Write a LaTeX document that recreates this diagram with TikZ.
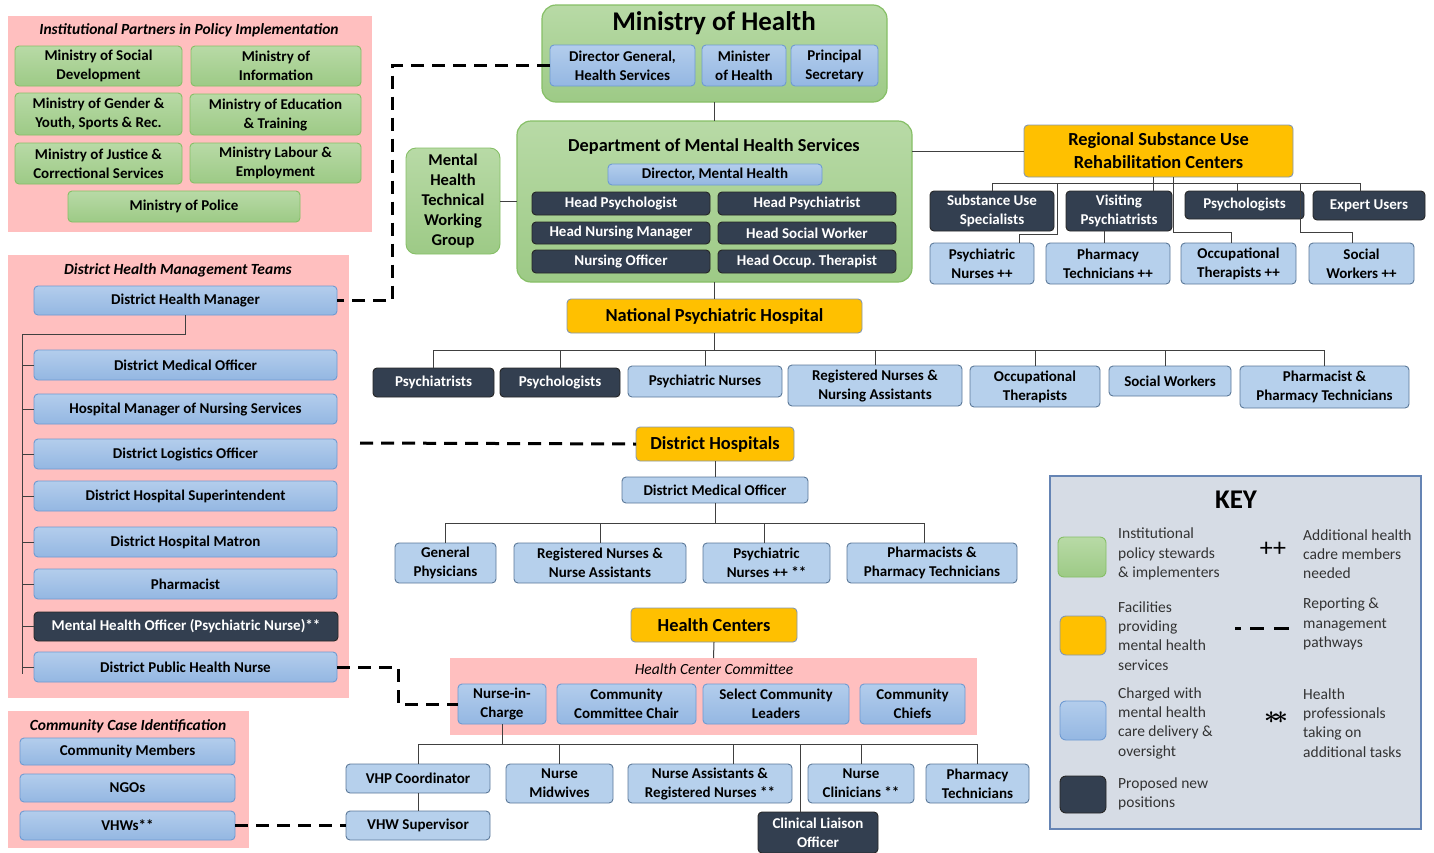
\documentclass[tikz,border=0pt]{standalone}
\usepackage{fontspec}
\setmainfont{Carlito}
\usepackage{tikz}
\usetikzlibrary{positioning,calc}

\definecolor{pinkf}{HTML}{FFBFBF}
\definecolor{grnt}{HTML}{B8DAA6}
\definecolor{grnb}{HTML}{9DCA86}
\definecolor{grnd}{HTML}{86BF66}
\definecolor{blut}{HTML}{B3CDEC}
\definecolor{blub}{HTML}{94B7E2}
\definecolor{blud}{HTML}{6E9AD2}
\definecolor{lbluf}{HTML}{B6D0EC}
\definecolor{lblud}{HTML}{5B7898}
\definecolor{drkf}{HTML}{333F50}
\definecolor{orgf}{HTML}{FFC000}
\definecolor{orgd}{HTML}{8497B0}
\definecolor{keyf}{HTML}{D6DCE5}
\definecolor{keyd}{HTML}{6584B4}

% box from pixel corners
\newcommand{\bx}[7]{\path ({(#3+#5)/2},{(#4+#6)/2}) node (#1) [#2, minimum width={(#5-#3)*1pt}, minimum height={(#6-#4)*1pt}] {#7};}

\begin{document}
\begin{tikzpicture}[x=1pt,y=-1pt,
    box/.style={rounded corners=4pt,line width=0.9pt,align=center,inner sep=1pt,outer sep=0pt,
      font=\bfseries\fontsize{15}{19}\selectfont},
    grn/.style={box,top color=grnt,bottom color=grnb,draw=grnd},
    blu/.style={box,top color=blut,bottom color=blub,draw=blud},
    lblu/.style={box,fill=lbluf,draw=lblud},
    dark/.style={box,fill=drkf,draw=black!85,text=white},
    org/.style={box,fill=orgf,draw=orgd,font=\bfseries\fontsize{18.4}{23}\selectfont},
    bigg/.style={grn,rounded corners=14pt,line width=1.2pt},
    panel/.style={fill=pinkf,draw=none,outer sep=0pt},
    ptitle/.style={font=\bfseries\itshape\fontsize{15.5}{17}\selectfont,inner sep=0pt},
    keybox/.style={fill=keyf,draw=keyd,line width=1.6pt},
    keytxt/.style={anchor=west,align=left,inner sep=0pt,text=black!80,font=\fontsize{15.5}{19.3}\selectfont},
    tree/.style={draw=black!75,line width=1pt},
    rep/.style={line width=3pt,dash pattern=on 13pt off 8pt}]
\useasboundingbox (0,0) rectangle (1434,852);

% panels
\bx{ipp}{panel}{8}{16}{372}{232}{}
\node[ptitle] (ippt) at (189,30) {Institutional Partners in Policy Implementation};
\bx{dhmt}{panel}{8}{255}{349}{698}{}
\node[ptitle] (dhmtt) at (178,270) {District Health Management Teams};
\bx{cci}{panel}{8}{711}{249}{848}{}
\node[ptitle] (ccit) at (128,726) {Community Case Identification};
\bx{hcc}{panel}{450}{658}{977}{735}{}
\node[ptitle,font=\itshape\fontsize{15.5}{17}\selectfont] (hcct) at (714,669) {Health Center Committee};

% institutional partners
\bx{msd}{grn}{15}{46}{182}{86}{Ministry of Social\\Development}
\bx{minf}{grn}{191}{46}{361}{86}{Ministry of\\Information}
\bx{mgy}{grn}{15}{93}{182}{135}{Ministry of Gender \&\\Youth, Sports \& Rec.}
\bx{medu}{grn}{190}{94}{361}{135}{Ministry of Education\\\& Training}
\bx{mjus}{grn}{15}{143}{182}{184}{Ministry of Justice \&\\Correctional Services}
\bx{mlab}{grn}{190}{143}{361}{183}{Ministry Labour \&\\Employment}
\bx{mpol}{grn}{68}{191}{300}{222}{Ministry of Police}

% ministry of health
\bx{moh}{bigg}{542}{5}{887}{102}{}
\node[font=\bfseries\fontsize{27}{30}\selectfont] (moht) at (714,23) {Ministry of Health};
\bx{dg}{blu}{550}{45}{695}{86}{Director General,\\Health Services}
\bx{mh}{blu}{702}{45}{786}{86}{Minister\\of Health}
\bx{ps}{blu}{791}{45}{878}{86}{Principal\\Secretary}

% department of mental health services
\bx{dmhs}{bigg}{517}{121}{912}{282}{}
\node[font=\bfseries\fontsize{18.3}{21}\selectfont] (dmhst) at (714,147) {Department of Mental Health Services};
\bx{dmh}{blu}{608}{164}{822}{185}{Director, Mental Health}
\bx{hpsl}{dark}{532}{192}{710}{215}{Head Psychologist}
\bx{hpst}{dark}{718}{192}{896}{215}{Head Psychiatrist}
\bx{hnm}{dark}{532}{222}{710}{244}{Head Nursing Manager}
\bx{hsw}{dark}{718}{222}{896}{244}{Head Social Worker}
\bx{nof}{dark}{532}{250}{710}{273}{Nursing Officer}
\bx{hot}{dark}{718}{250}{896}{273}{Head Occup.\ Therapist}
\bx{mhtwg}{grn,rounded corners=10pt,font=\bfseries\fontsize{16.5}{20}\selectfont}{406}{148}{500}{254}{Mental\\Health\\Technical\\Working\\Group}

% regional substance use centers
\bx{reg}{org}{1024}{125}{1293}{177}{Regional Substance Use\\Rehabilitation Centers}
\bx{sus}{dark}{930}{191}{1054}{231}{Substance Use\\Specialists}
\bx{vps}{dark}{1066}{191}{1172}{231}{Visiting\\Psychiatrists}
\bx{rpsl}{dark}{1185}{191}{1304}{219}{Psychologists}
\bx{eu}{dark}{1313}{191}{1425}{220}{Expert Users}
\bx{rpn}{lblu}{930}{243}{1034}{284}{Psychiatric\\Nurses ++}
\bx{rpt}{lblu}{1046}{243}{1170}{284}{Pharmacy\\Technicians ++}
\bx{rot}{lblu}{1181}{243}{1296}{284}{Occupational\\Therapists ++}
\bx{rsw}{lblu}{1309}{243}{1414}{284}{Social\\Workers ++}

% national psychiatric hospital
\bx{nph}{org}{567}{299}{862}{333}{National Psychiatric Hospital}
\bx{npsyt}{dark}{373}{368}{494}{397}{Psychiatrists}
\bx{npsyl}{dark}{500}{368}{620}{397}{Psychologists}
\bx{npn}{lblu}{628}{366}{782}{397}{Psychiatric Nurses}
\bx{nrn}{lblu}{788}{365}{962}{406}{Registered Nurses \&\\Nursing Assistants}
\bx{nocc}{lblu}{970}{366}{1100}{407}{Occupational\\Therapists}
\bx{nsw}{lblu}{1109}{366}{1231}{396}{Social Workers}
\bx{nphm}{lblu}{1240}{366}{1409}{408}{Pharmacist \&\\Pharmacy Technicians}

% district hospitals
\bx{dh}{org}{636}{427}{794}{461}{District Hospitals}
\bx{ddmo}{lblu}{622}{477}{808}{503}{District Medical Officer}
\bx{gp}{lblu}{395}{543}{496}{583}{General\\Physicians}
\bx{drn}{lblu}{514}{543}{686}{583}{Registered Nurses \&\\Nurse Assistants}
\bx{dpn}{lblu}{703}{543}{830}{583}{Psychiatric\\Nurses ++ **}
\bx{dph}{lblu}{847}{543}{1017}{583}{Pharmacists \&\\Pharmacy Technicians}

% health centers
\bx{hc}{org}{631}{608}{797}{642}{Health Centers}
\bx{nic}{blu}{458}{684}{546}{724}{Nurse-in-\\Charge}
\bx{ccc}{blu}{557}{684}{696}{724}{Community\\Committee Chair}
\bx{scl}{blu}{703}{684}{849}{724}{Select Community\\Leaders}
\bx{cch}{blu}{860}{684}{965}{724}{Community\\Chiefs}
\bx{vhp}{lblu}{346}{764}{490}{793}{VHP Coordinator}
\bx{nmw}{lblu}{506}{764}{613}{803}{Nurse\\Midwives}
\bx{narn}{lblu}{628}{764}{792}{803}{Nurse Assistants \&\\Registered Nurses **}
\bx{ncl}{lblu}{808}{764}{914}{803}{Nurse\\Clinicians **}
\bx{hpt}{lblu}{926}{764}{1029}{803}{Pharmacy\\Technicians}
\bx{clo}{dark}{758}{812}{878}{853}{Clinical Liaison\\Officer}
\bx{vhws}{lblu}{346}{811}{490}{840}{VHW Supervisor}

% district health management teams
\bx{dhm}{blu}{34}{286}{337}{315}{District Health Manager}
\bx{dmo}{blu}{34}{350}{337}{380}{District Medical Officer}
\bx{hmns}{blu}{34}{394}{337}{424}{Hospital Manager of Nursing Services}
\bx{dlo}{blu}{34}{439}{337}{469}{District Logistics Officer}
\bx{dhs}{blu}{34}{481}{337}{511}{District Hospital Superintendent}
\bx{dhmat}{blu}{34}{527}{337}{557}{District Hospital Matron}
\bx{phm}{blu}{34}{569}{337}{599}{Pharmacist}
\bx{mho}{dark}{34}{612}{338}{641}{Mental Health Officer (Psychiatric Nurse)**}
\bx{dphn}{blu}{34}{652}{337}{682}{District Public Health Nurse}

% community case identification
\bx{cm}{blu}{20}{738}{235}{765}{Community Members}
\bx{ngo}{blu}{20}{774}{235}{802}{NGOs}
\bx{vhw}{blu}{20}{811}{235}{840}{VHWs**}

% key
\bx{key}{keybox}{1050}{476}{1421}{829}{}
\node[font=\bfseries\fontsize{27}{30}\selectfont] (keyt) at (1236,500) {KEY};
\bx{kg}{grn,rounded corners=6pt}{1058}{537}{1106}{577}{}
\bx{ko}{org,rounded corners=6pt}{1060}{616}{1106}{655}{}
\bx{kb}{blu,rounded corners=6pt}{1060}{701}{1106}{740}{}
\bx{kd}{dark,rounded corners=6pt}{1060}{776}{1106}{813}{}
\node[keytxt] (kgt) at (1118,554) {Institutional\\policy stewards\\\& implementers};
\node[keytxt] (kot) at (1118,636) {Facilities\\providing\\mental health\\services};
\node[keytxt] (kbt) at (1118,723) {Charged with\\mental health\\care delivery \&\\oversight};
\node[keytxt] (kdt) at (1118,794) {Proposed new\\positions};
\node[keytxt] (kpt) at (1303,554) {Additional health\\cadre members\\needed};
\node[keytxt] (krt) at (1303,624) {Reporting \&\\management\\pathways};
\node[keytxt] (kat) at (1303,723) {Health\\professionals\\taking on\\additional tasks};
\node[font=\fontsize{26}{28}\selectfont] (kplus) at (1273,549) {++};
\node[font={\fontsize{34}{36}\selectfont\boldmath}] (kast) at (1276,718) {$\ast\!\ast$};
\coordinate (kdash) at (1235,628);
\draw[line width=3pt,dash pattern=on 6pt off 9pt on 14pt off 10pt on 15pt off 20pt] (kdash) -- ++(54pt,0);

% connectors
\draw[tree] (moh.south) -- (dmhs.north);
\draw[tree] (mhtwg.east) -- (mhtwg.east -| dmhs.west);
\draw[tree] (dmhs.east |- reg.west) -- (reg.west);
\draw[tree] (dmhs.south) -- (nph.north);

\coordinate (rbus) at (0,183);
\draw[tree] ([xshift=-5.5pt]reg.south) -- ([xshift=-5.5pt]reg.south |- rbus);
\draw[tree] (sus.north |- rbus) -- ([xshift=-9pt]eu.north |- rbus);
\draw[tree] (sus.north) -- (sus.north |- rbus);
\draw[tree] ([xshift=34pt]vps.north) -- ([xshift=34pt]vps.north |- rbus);
\draw[tree] ([xshift=-7pt]rpsl.north) -- ([xshift=-7pt]rpsl.north |- rbus);
\draw[tree] ([xshift=-9pt]eu.north) -- ([xshift=-9pt]eu.north |- rbus);
\draw[tree] ([xshift=14.5pt]reg.south) |- ([xshift=-7pt,yshift=11pt]rot.north) -- ([xshift=-7pt]rot.north);
\draw[tree] ([xshift=37pt]rpn.north) -- ++(0,9pt) -| ([xshift=3pt]sus.east |- rbus);
\draw[tree] ([xshift=-15pt]vps.south) -- ([xshift=-15pt]vps.south |- rpt.north);
\draw[tree] ([xshift=-4pt]rpsl.east |- rbus) |- ([xshift=-9.5pt,yshift=11pt]rsw.north) -- ([xshift=-9.5pt]rsw.north);

\coordinate (nbus) at (0,350);
\draw[tree] (nph.south) -- (nph.south |- nbus);
\draw[tree] (npsyt.north |- nbus) -- (nphm.north |- nbus);
\draw[tree] (npsyt.north) -- (npsyt.north |- nbus) (npsyl.north) -- (npsyl.north |- nbus)
  (npn.north) -- (npn.north |- nbus) (nrn.north) -- (nrn.north |- nbus)
  (nocc.north) -- (nocc.north |- nbus) ([xshift=-5pt]nsw.north) -- ([xshift=-5pt]nsw.north |- nbus)
  (nphm.north) -- (nphm.north |- nbus);

\draw[tree] (dh.south) -- (ddmo.north);
\coordinate (dbus) at (0,523);
\draw[tree] (ddmo.south) -- (ddmo.south |- dbus);
\draw[tree] (gp.north |- dbus) -- ([xshift=-8pt]dph.north |- dbus);
\draw[tree] (gp.north) -- (gp.north |- dbus) (drn.north) -- (drn.north |- dbus)
  ([xshift=-2pt]dpn.north) -- ([xshift=-2pt]dpn.north |- dbus)
  ([xshift=-8pt]dph.north) -- ([xshift=-8pt]dph.north |- dbus);

\draw[tree] (hc.south) -- (hcc.north);
\coordinate (hbus) at (0,744);
\draw[tree] (nic.south) -- (nic.south |- hbus);
\draw[tree] (vhp.north |- hbus) -- (hpt.north |- hbus);
\draw[tree] (vhp.north) -- (vhp.north |- hbus) (nmw.north) -- (nmw.north |- hbus)
  ([xshift=23pt]narn.north) -- ([xshift=23pt]narn.north |- hbus)
  (ncl.north) -- (ncl.north |- hbus) (hpt.north) -- (hpt.north |- hbus)
  ([xshift=-18pt]clo.north) -- ([xshift=-18pt]clo.north |- hbus);
\draw[tree] (vhp.south) -- (vhws.north);

\coordinate (dtrunk) at (22,334);
\draw[tree] (dhm.south) |- (dtrunk) -- ++(0,-340pt);
\draw[tree] (dmo.west) -- (dmo.west -| dtrunk) (hmns.west) -- (hmns.west -| dtrunk)
  (dlo.west) -- (dlo.west -| dtrunk) (dhs.west) -- (dhs.west -| dtrunk)
  (dhmat.west) -- (dhmat.west -| dtrunk) (phm.west) -- (phm.west -| dtrunk)
  (mho.west) -- (mho.west -| dtrunk) (dphn.west) -- (dphn.west -| dtrunk);

% reporting pathways
\draw[rep] (dg.west) -| ([xshift=55pt]dhm.east) -- (dhm.east);
\coordinate (dhl) at (360,443);
\draw[rep] (dhl) -- (dh.west);
\draw[rep] (dphn.east) -- ++(61pt,0) |- (nic.west);
\draw[rep] (vhw.east) -- (vhws.west);
\end{tikzpicture}
\end{document}
